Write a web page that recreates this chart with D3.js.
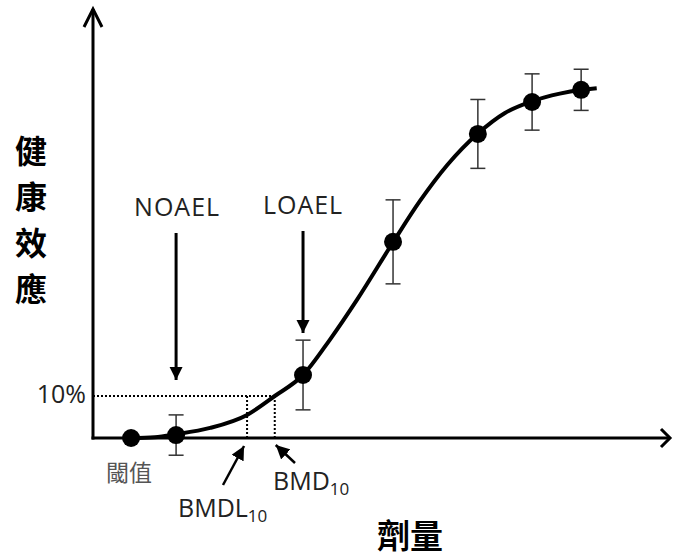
<!DOCTYPE html>
<html><head><meta charset="utf-8">
<script src="https://cdn.jsdelivr.net/npm/d3@7/dist/d3.min.js"></script>
<style>body{margin:0;background:#fff}svg{display:block}</style>
</head><body>
<svg id="c" width="673" height="559"></svg>
<script>
// Data (dose in arbitrary units 0-100, response in %)
const doses = [6.6, 14.4, 36.4, 52.0, 66.7, 76.1, 84.6];
const responses = [0, 0.7, 15.0, 46.7, 72.4, 80.0, 82.9];
const errors = [0, 4.8, 8.3, 10.0, 8.2, 6.7, 4.9];
const curveDose = [6.6, 10.7, 14.4, 20.3, 26.7, 31.5, 36.4, 41.1, 45.8, 52.0, 56.7, 61.4, 66.7, 71.4, 76.1, 80.9, 84.6, 87.3];
const curveResp = [0, 0.2, 0.9, 2.4, 5.5, 10.0, 15.0, 23.5, 33.0, 46.6, 56.5, 65.0, 72.5, 77.4, 80.2, 82.0, 82.9, 83.3];
const bmrLevel = 10;      // 10%
const bmdl = 26.7, bmd = 31.5;
const noaelIdx = 1, loaelIdx = 2;
const yTitle = ["健","康","效","應"];
const xTitle = "劑量";

const svg = d3.select("#c");
const x = d3.scaleLinear().domain([0, 100]).range([93, 670]);
const y = d3.scaleLinear().domain([0, 100]).range([438, 18]);
const latin = "'Open Sans','Noto Sans',sans-serif";
const cjk = "'Noto Sans CJK TC','Noto Sans CJK SC',sans-serif";

// defs for arrowheads
const defs = svg.append("defs");
defs.append("marker").attr("id","tri").attr("viewBox","0 0 10 10").attr("refX",10).attr("refY",5)
  .attr("markerWidth",4.5).attr("markerHeight",4.5).attr("markerUnits","strokeWidth").attr("orient","auto")
  .append("path").attr("d","M0,0L10,5L0,10Z").attr("fill","#000");
defs.append("marker").attr("id","tri2").attr("viewBox","0 0 10 10").attr("refX",10).attr("refY",5)
  .attr("markerWidth",5.5).attr("markerHeight",5.5).attr("markerUnits","strokeWidth").attr("orient","auto")
  .append("path").attr("d","M0,0L10,5L0,10Z").attr("fill","#000");

// 10% dotted lines
const g = svg.append("g");
g.append("line").attr("x1", x(0)).attr("x2", x(bmd)).attr("y1", y(bmrLevel)).attr("y2", y(bmrLevel))
  .attr("stroke","#000").attr("stroke-width",2).attr("stroke-dasharray","2,2");
[bmdl, bmd].forEach(d => {
  g.append("line").attr("x1", x(d)).attr("x2", x(d)).attr("y1", y(bmrLevel)).attr("y2", y(0))
    .attr("stroke","#000").attr("stroke-width",2).attr("stroke-dasharray","2,2");
});

// axes with chevron arrows
const ax = svg.append("g").attr("stroke","#000").attr("fill","none").attr("stroke-width",3);
ax.append("line").attr("x1", x(0)).attr("x2", x(0)).attr("y1", y(0)+1.5).attr("y2", 9);
ax.append("path").attr("d", `M${x(0)-9},${27}L${x(0)},${9}L${x(0)+9},${27}`).attr("stroke-linejoin","miter");
ax.append("line").attr("x1", x(0)-1.5).attr("x2", 670).attr("y1", y(0)).attr("y2", y(0));
ax.append("path").attr("d", `M${661},${y(0)-9}L${670},${y(0)}L${661},${y(0)+9}`);

// error bars
const eb = svg.append("g").attr("stroke","#333").attr("stroke-width",1.5);
doses.forEach((d,i) => {
  if (!errors[i]) return;
  const cx = x(d), y1 = y(responses[i]+errors[i]), y2 = y(responses[i]-errors[i]);
  eb.append("line").attr("x1",cx).attr("x2",cx).attr("y1",y1).attr("y2",y2);
  eb.append("line").attr("x1",cx-7.5).attr("x2",cx+7.5).attr("y1",y1).attr("y2",y1);
  eb.append("line").attr("x1",cx-7.5).attr("x2",cx+7.5).attr("y1",y2).attr("y2",y2);
});

// fitted curve
const pts = curveDose.map((d,i)=>[d, curveResp[i]]);
svg.append("path").datum(pts)
  .attr("d", d3.line().x(d=>x(d[0])).y(d=>y(d[1])).curve(d3.curveMonotoneX))
  .attr("fill","none").attr("stroke","#000").attr("stroke-width",4);

// points
svg.append("g").selectAll("circle").data(doses).join("circle")
  .attr("cx", d=>x(d)).attr("cy", (d,i)=>y(responses[i])).attr("r", 9).attr("fill","#000");

// NOAEL / LOAEL arrows and labels
const arr = svg.append("g").attr("stroke","#000").attr("stroke-width",3);
arr.append("line").attr("x1", x(doses[noaelIdx])).attr("x2", x(doses[noaelIdx]))
  .attr("y1", 233).attr("y2", 380).attr("marker-end","url(#tri)");
arr.append("line").attr("x1", x(doses[loaelIdx])).attr("x2", x(doses[loaelIdx]))
  .attr("y1", 231).attr("y2", 333).attr("marker-end","url(#tri)");
svg.append("text").attr("x", x(doses[noaelIdx])+1).attr("y", 216).attr("text-anchor","middle")
  .attr("font-family", latin).attr("font-size", 25).attr("letter-spacing",1).attr("fill","#222").text("NOAEL");
svg.append("text").attr("x", x(doses[loaelIdx])).attr("y", 214).attr("text-anchor","middle")
  .attr("font-family", latin).attr("font-size", 25).attr("letter-spacing",1).attr("fill","#222").text("LOAEL");

// BMD arrows
const arr2 = svg.append("g").attr("stroke","#000").attr("stroke-width",2.5);
arr2.append("line").attr("x1", 223).attr("y1", 485).attr("x2", x(bmdl)-3).attr("y2", 446).attr("marker-end","url(#tri2)");
arr2.append("line").attr("x1", 295).attr("y1", 463).attr("x2", x(bmd)+1).attr("y2", 445).attr("marker-end","url(#tri2)");

// labels
svg.append("text").attr("x", 86).attr("y", 403).attr("text-anchor","end")
  .attr("font-family", latin).attr("font-size", 25).attr("fill","#222").text("10%");
svg.append("text").attr("x", 129).attr("y", 481).attr("text-anchor","middle")
  .attr("font-family", cjk).attr("font-size", 23).attr("fill","#555").text("閾值");
const bmdT = svg.append("text").attr("x", 273).attr("y", 490)
  .attr("font-family", latin).attr("font-size", 25).attr("fill","#222");
bmdT.append("tspan").text("BMD");
bmdT.append("tspan").attr("font-size",17).attr("dy",5).text("10");
const bmdlT = svg.append("text").attr("x", 178).attr("y", 517)
  .attr("font-family", latin).attr("font-size", 25).attr("fill","#222");
bmdlT.append("tspan").text("BMDL");
bmdlT.append("tspan").attr("font-size",17).attr("dy",5).text("10");

// axis titles
svg.append("g").selectAll("text").data(yTitle).join("text")
  .attr("x", 31).attr("y", (d,i)=>163 + i*46).attr("text-anchor","middle")
  .attr("font-family", cjk).attr("font-weight","bold").attr("font-size", 32).attr("fill","#000").text(d=>d);
svg.append("text").attr("x", 410).attr("y", 548).attr("text-anchor","middle")
  .attr("font-family", cjk).attr("font-weight","bold").attr("font-size", 33).attr("fill","#000").text(xTitle);
</script>
</body></html>
